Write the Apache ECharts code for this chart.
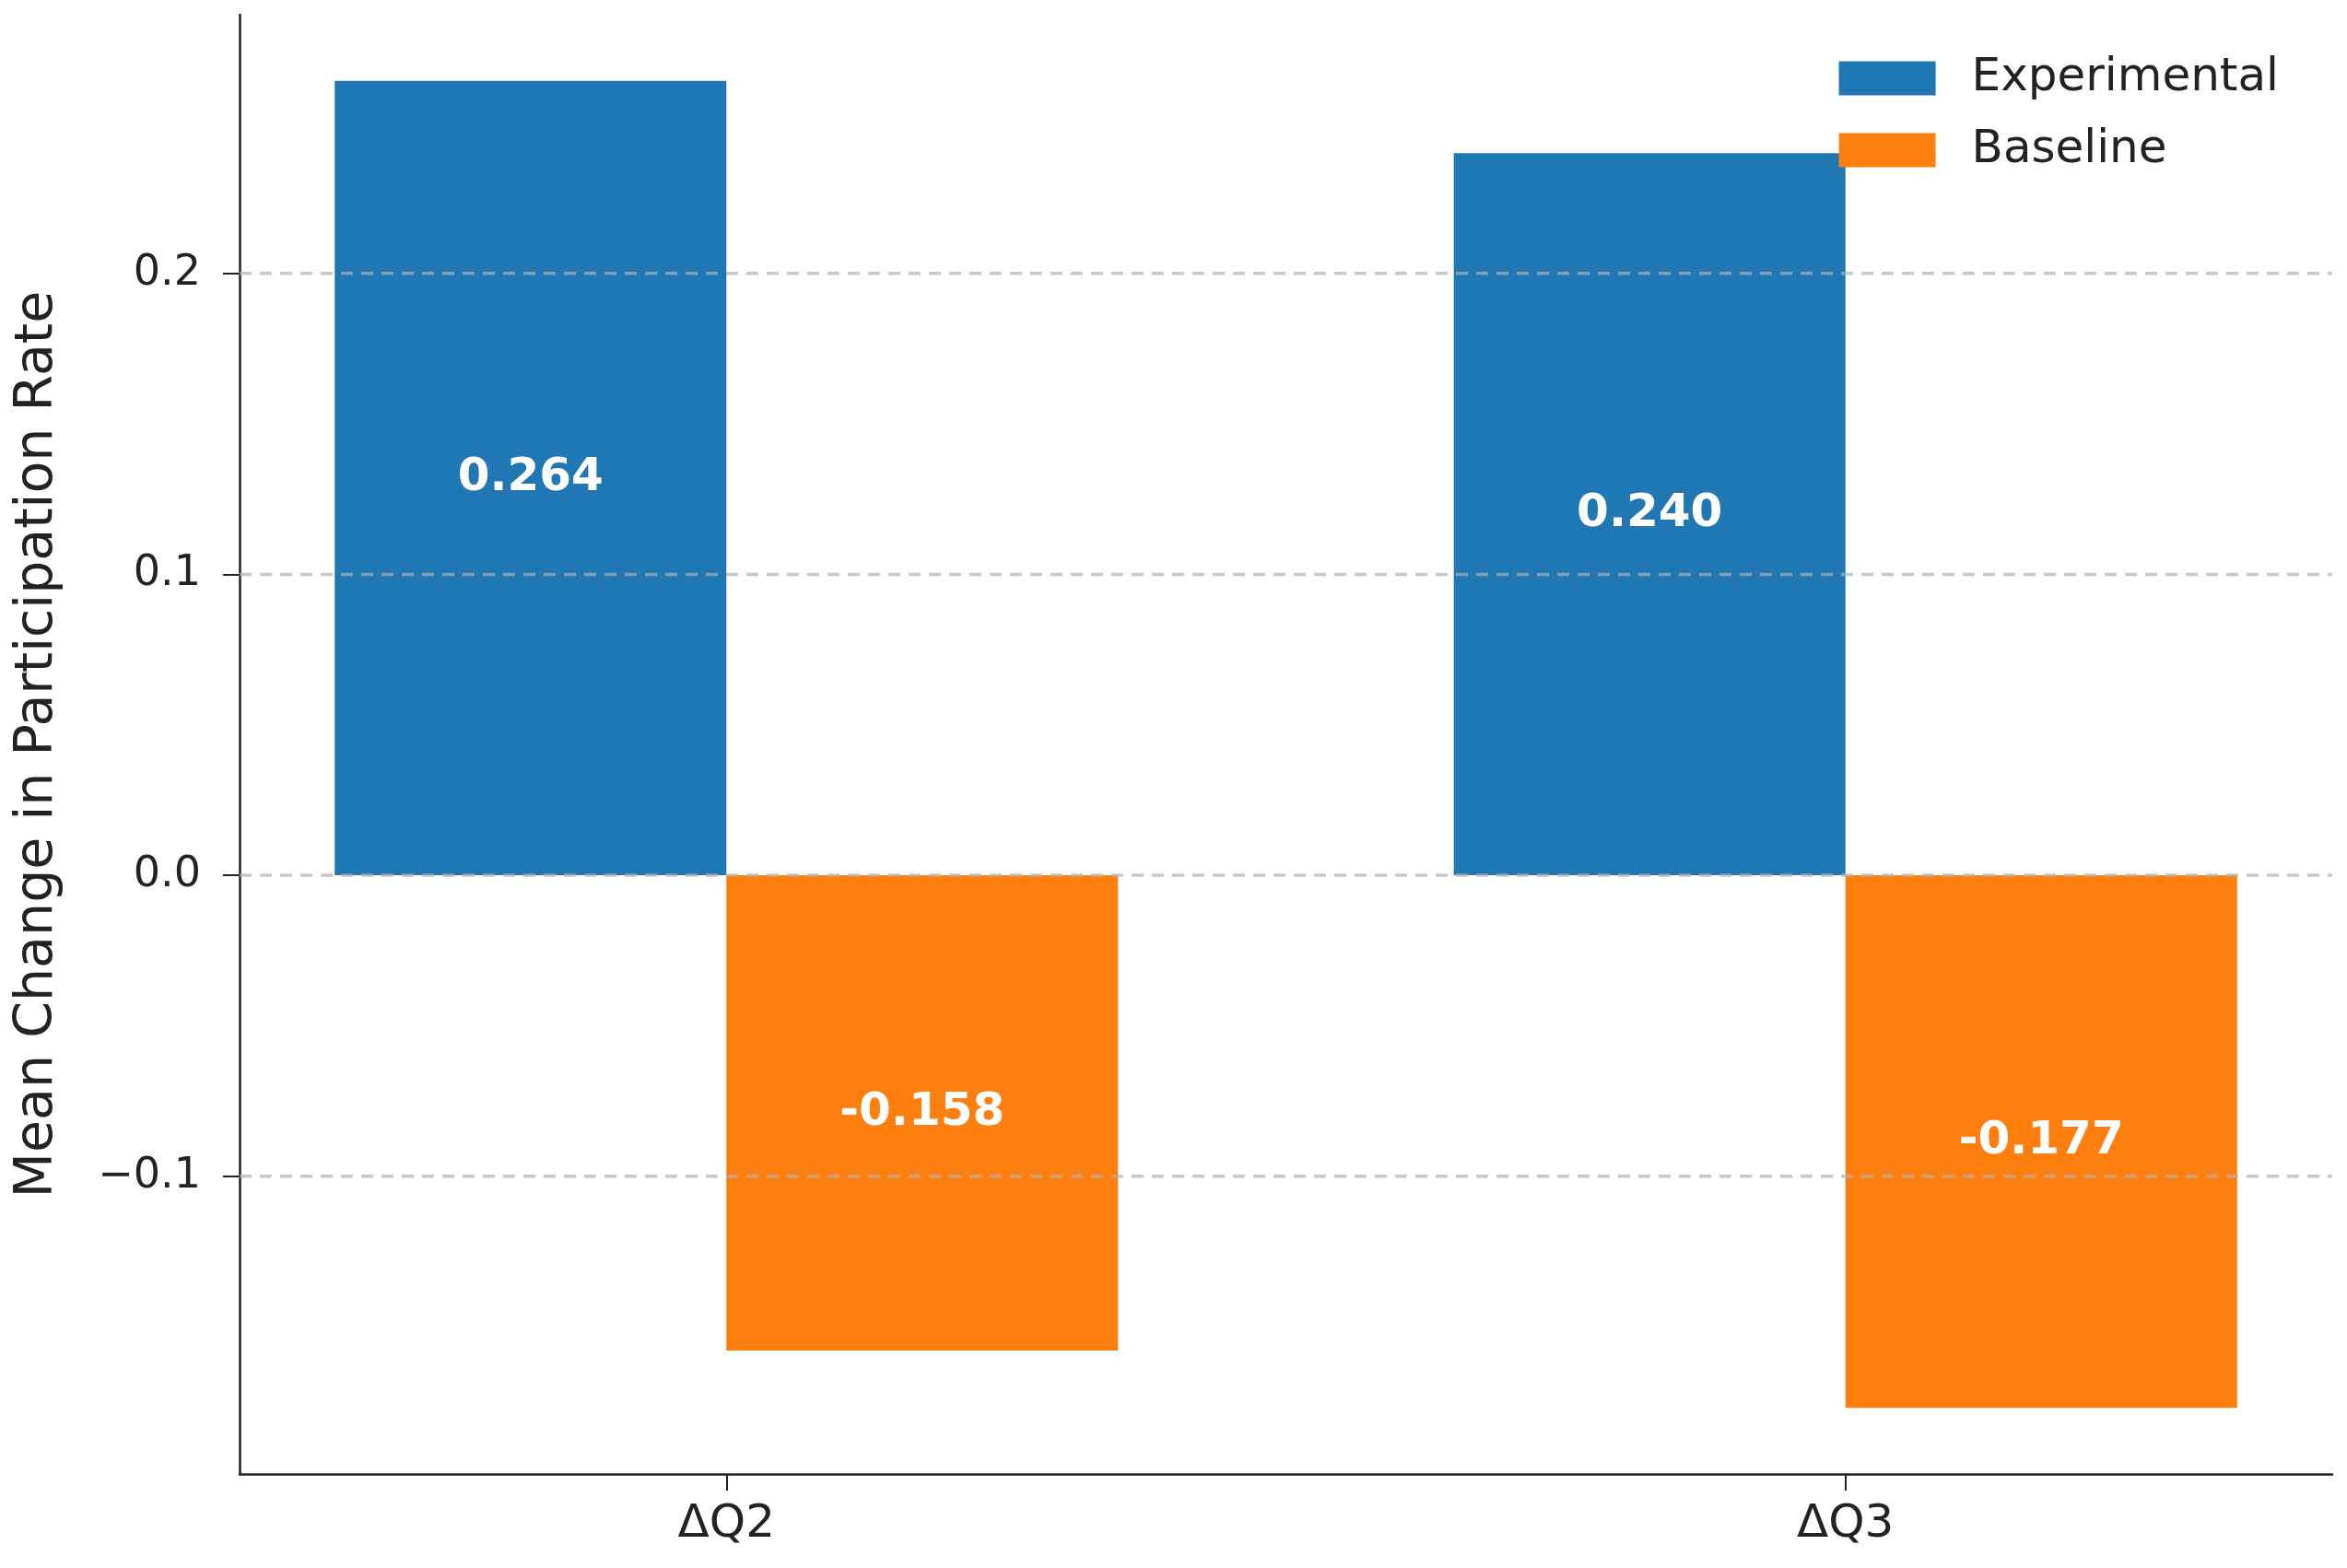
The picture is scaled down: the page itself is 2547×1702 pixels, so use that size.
<!DOCTYPE html>
<html>
<head>
<meta charset="utf-8">
<script src="https://cdn.jsdelivr.net/npm/echarts@6/dist/echarts.min.js"></script>
<style>html,body{margin:0;padding:0;background:#fff;}#c{width:2547px;height:1702px;}</style>
</head>
<body>
<div id="c"></div>
<script>
const categories = ['ΔQ2', 'ΔQ3'];
const experimental = [0.264, 0.240];
const baseline = [-0.158, -0.177];
const seriesNames = ['Experimental', 'Baseline'];
const yTickValues = [-0.1, 0.0, 0.1, 0.2];
const yTickLabels = ['\u22120.1', '0.0', '0.1', '0.2'];

const BAR_W = 0.35;
const FONT = 'DejaVu Sans';
const chart = echarts.init(document.getElementById('c'), null, {renderer: 'canvas'});

function makeRender(offset) {
  return function (params, api) {
    const idx = api.value(0);
    const val = api.value(1);
    const p0 = api.coord([idx + offset - BAR_W / 2, val]);
    const p1 = api.coord([idx + offset + BAR_W / 2, 0]);
    const x = Math.min(p0[0], p1[0]);
    const y = Math.min(p0[1], p1[1]);
    const w = Math.abs(p1[0] - p0[0]);
    const h = Math.abs(p1[1] - p0[1]);
    return {
      type: 'group',
      children: [
        {type: 'rect', shape: {x: x, y: y, width: w, height: h}, style: {fill: api.visual('color')}},
        {type: 'text', z2: 10, style: {
          x: x + w / 2, y: y + h / 2, text: val.toFixed(3),
          fill: '#ffffff', font: 'bold 50px "' + FONT + '"',
          textAlign: 'center', textVerticalAlign: 'middle'
        }}
      ]
    };
  };
}

function renderGrid(params, api) {
  const cs = params.coordSys;
  const y = api.coord([0, api.value(0)])[1];
  return {
    type: 'line',
    shape: {x1: cs.x, y1: y, x2: cs.x + cs.width, y2: y},
    style: {stroke: 'rgba(176,176,176,0.7)', lineWidth: 3.5, lineDash: [13, 9]}
  };
}

const option = {
  backgroundColor: '#ffffff',
  animation: false,
  textStyle: {fontFamily: FONT},
  grid: {left: 260, right: 16, top: 16, bottom: 102, containLabel: false},
  legend: {
    orient: 'vertical', right: 69, top: 55, z: 20,
    icon: 'rect', itemWidth: 105, itemHeight: 37, itemGap: 28,
    textStyle: {fontFamily: FONT, fontSize: 50, color: '#222', padding: [0, 0, 0, 34], lineHeight: 50},
    data: seriesNames
  },
  xAxis: {
    type: 'value', min: -0.435, max: 1.435,
    axisLine: {show: true, onZero: false, lineStyle: {color: '#222', width: 2.5}},
    axisTick: {show: true, length: 18, lineStyle: {color: '#222', width: 2}, customValues: [0, 1]},
    axisLabel: {customValues: [0, 1], formatter: v => categories[Math.round(v)], fontFamily: FONT, fontSize: 50, color: '#222', margin: 30},
    splitLine: {show: false}
  },
  yAxis: {
    type: 'value', min: -0.199, max: 0.286,
    name: 'Mean Change in Participation Rate', nameLocation: 'middle', nameGap: 190,
    nameTextStyle: {fontFamily: FONT, fontSize: 57, color: '#222'},
    axisLine: {show: true, onZero: false, lineStyle: {color: '#222', width: 2.5}},
    axisTick: {show: true, length: 18, lineStyle: {color: '#222', width: 2}, customValues: yTickValues},
    axisLabel: {customValues: yTickValues, formatter: v => {
      const i = yTickValues.findIndex(t => Math.abs(t - v) < 1e-9);
      return i >= 0 ? yTickLabels[i] : '';
    }, fontFamily: FONT, fontSize: 46, color: '#222', margin: 42},
    splitLine: {show: false}
  },
  series: [
    {name: seriesNames[0], type: 'custom', z: 1, itemStyle: {color: '#1f77b4'},
     renderItem: makeRender(-BAR_W / 2), encode: {x: 0, y: 1},
     data: experimental.map((v, i) => [i, v])},
    {name: seriesNames[1], type: 'custom', z: 1, itemStyle: {color: '#ff7f0e'},
     renderItem: makeRender(BAR_W / 2), encode: {x: 0, y: 1},
     data: baseline.map((v, i) => [i, v])},
    {name: 'gridlines', type: 'custom', zlevel: 1, z: 8, silent: true,
     renderItem: renderGrid, encode: {y: 0},
     data: yTickValues.map(v => [v])}
  ]
};
chart.setOption(option);
</script>
</body>
</html>
